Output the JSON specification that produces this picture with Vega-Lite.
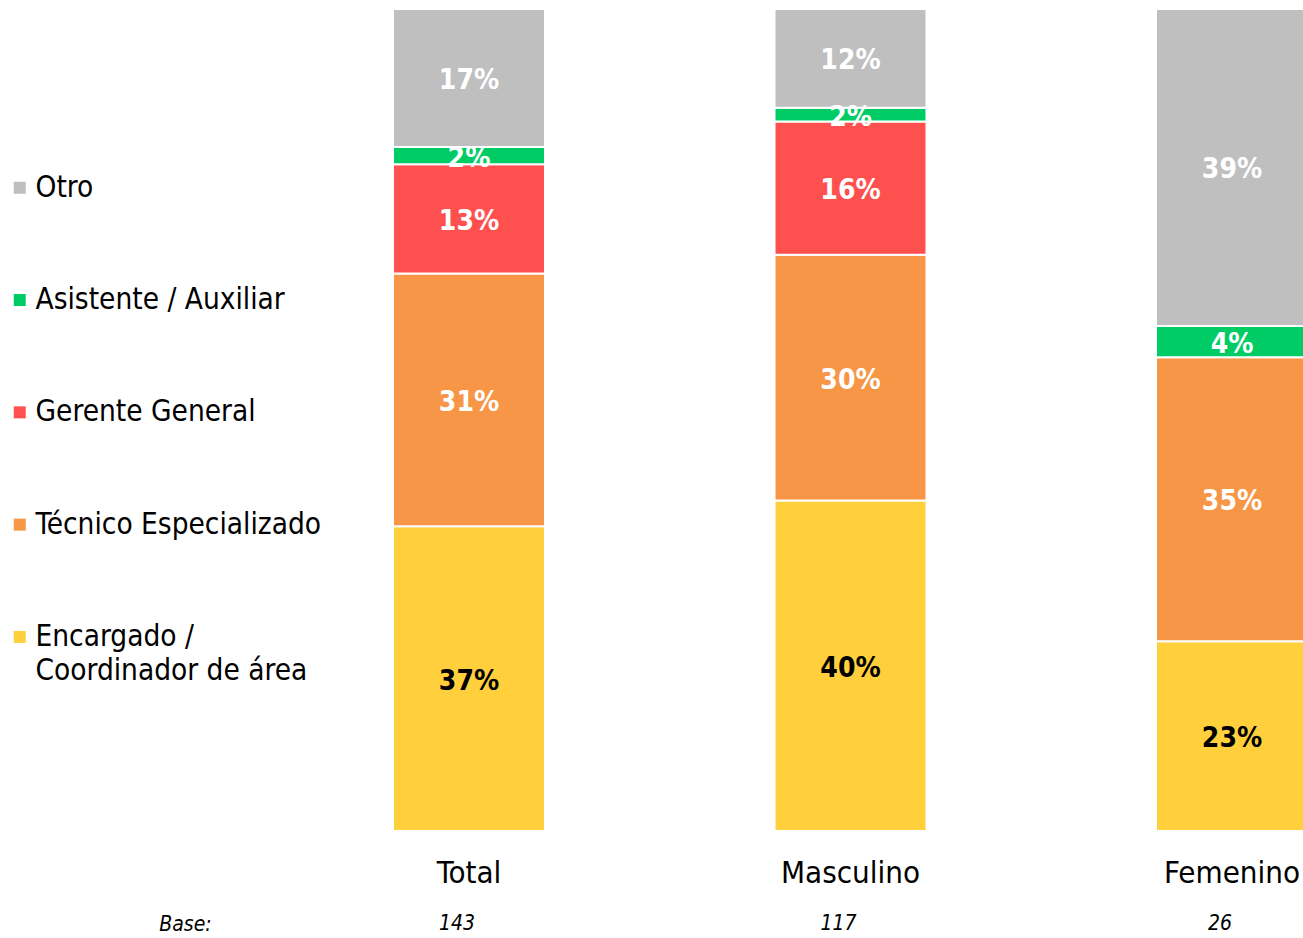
{
  "$schema": "https://vega.github.io/schema/vega-lite/v6.json",
  "width": 905,
  "height": 822,
  "autosize": "none",
  "padding": {"left": 398, "top": 9, "right": 0, "bottom": 107},
  "background": "white",
  "config": {
    "view": {"stroke": null},
    "font": "DejaVu Sans Condensed, DejaVu Sans, sans-serif",
    "style": {"guide-label": {"lineHeight": 34}}
  },
  "datasets": {
    "cargos": [
      {"grupo": "Total", "cargo": "Encargado / Coordinador de área", "orden": 1, "pct": 0.371},
      {"grupo": "Total", "cargo": "Técnico Especializado", "orden": 2, "pct": 0.308},
      {"grupo": "Total", "cargo": "Gerente General", "orden": 3, "pct": 0.133},
      {"grupo": "Total", "cargo": "Asistente / Auxiliar", "orden": 4, "pct": 0.021},
      {"grupo": "Total", "cargo": "Otro", "orden": 5, "pct": 0.168},
      {"grupo": "Masculino", "cargo": "Encargado / Coordinador de área", "orden": 1, "pct": 0.402},
      {"grupo": "Masculino", "cargo": "Técnico Especializado", "orden": 2, "pct": 0.299},
      {"grupo": "Masculino", "cargo": "Gerente General", "orden": 3, "pct": 0.162},
      {"grupo": "Masculino", "cargo": "Asistente / Auxiliar", "orden": 4, "pct": 0.017},
      {"grupo": "Masculino", "cargo": "Otro", "orden": 5, "pct": 0.120},
      {"grupo": "Femenino", "cargo": "Encargado / Coordinador de área", "orden": 1, "pct": 0.231},
      {"grupo": "Femenino", "cargo": "Técnico Especializado", "orden": 2, "pct": 0.346},
      {"grupo": "Femenino", "cargo": "Asistente / Auxiliar", "orden": 4, "pct": 0.038},
      {"grupo": "Femenino", "cargo": "Otro", "orden": 5, "pct": 0.386}
    ],
    "bases": [
      {"grupo": "Total", "base": 143},
      {"grupo": "Masculino", "base": 117},
      {"grupo": "Femenino", "base": 26}
    ]
  },
  "layer": [
    {
      "data": {"name": "cargos"},
      "transform": [
        {"stack": "pct", "groupby": ["grupo"], "sort": [{"field": "orden", "order": "ascending"}], "offset": "normalize", "as": ["y0", "y1"]}
      ],
      "mark": {"type": "bar", "stroke": "white", "strokeWidth": 2, "width": {"band": 1.0704}},
      "encoding": {
        "x": {
          "field": "grupo", "type": "nominal", "sort": ["Total", "Masculino", "Femenino"],
          "scale": {"paddingInner": 0.62779, "paddingOuter": 0},
          "title": "Base:",
          "axis": {
            "domain": false, "ticks": false, "grid": false,
            "labelFontSize": 31, "labelColor": "black", "labelPadding": 42, "labelBaseline": "middle", "labelAngle": 0,
            "titleFontSize": 21, "titleFontStyle": "italic", "titleFontWeight": "normal", "titleColor": "black",
            "titleX": -213, "titleY": 93, "titleAlign": "center", "titleBaseline": "middle"
          }
        },
        "y": {"field": "y0", "type": "quantitative", "scale": {"domain": [0, 1]}, "axis": null},
        "y2": {"field": "y1"},
        "color": {
          "field": "cargo", "type": "nominal",
          "scale": {
            "domain": ["Otro", "Asistente / Auxiliar", "Gerente General", "Técnico Especializado", "Encargado / Coordinador de área"],
            "range": ["#BFBFBF", "#00CC66", "#FF5050", "#F79646", "#FFCF3C"]
          },
          "legend": {
            "title": null, "orient": "none", "legendX": -393, "legendY": 164,
            "symbolType": "square", "symbolSize": 144, "symbolStrokeWidth": 0,
            "labelFontSize": 29.5, "labelColor": "black", "labelOffset": 1, "labelLimit": 500,
            "rowPadding": 81.3,
            "labelExpr": "datum.value === 'Encargado / Coordinador de área' ? ['Encargado /', 'Coordinador de área'] : datum.label",
            "encode": {"labels": {"update": {"lineHeight": {"value": 34}}}}
          }
        }
      }
    },
    {
      "data": {"name": "cargos"},
      "transform": [
        {"stack": "pct", "groupby": ["grupo"], "sort": [{"field": "orden", "order": "ascending"}], "offset": "normalize", "as": ["y0", "y1"]},
        {"calculate": "(datum.y0 + datum.y1) / 2", "as": "mid"}
      ],
      "mark": {"type": "text", "fontWeight": "bold", "fontSize": 28, "dy": 3},
      "encoding": {
        "x": {"field": "grupo", "type": "nominal", "sort": ["Total", "Masculino", "Femenino"]},
        "y": {"field": "mid", "type": "quantitative"},
        "text": {"field": "pct", "type": "quantitative", "format": ".0%"},
        "color": {"condition": {"test": "datum.cargo === 'Encargado / Coordinador de área'", "value": "black"}, "value": "white"}
      }
    },
    {
      "data": {"name": "bases"},
      "mark": {"type": "text", "fontStyle": "italic", "fontSize": 21, "dx": -12, "color": "black"},
      "encoding": {
        "x": {"field": "grupo", "type": "nominal", "sort": ["Total", "Masculino", "Femenino"]},
        "y": {"datum": -0.113},
        "text": {"field": "base", "type": "nominal"}
      }
    }
  ]
}
